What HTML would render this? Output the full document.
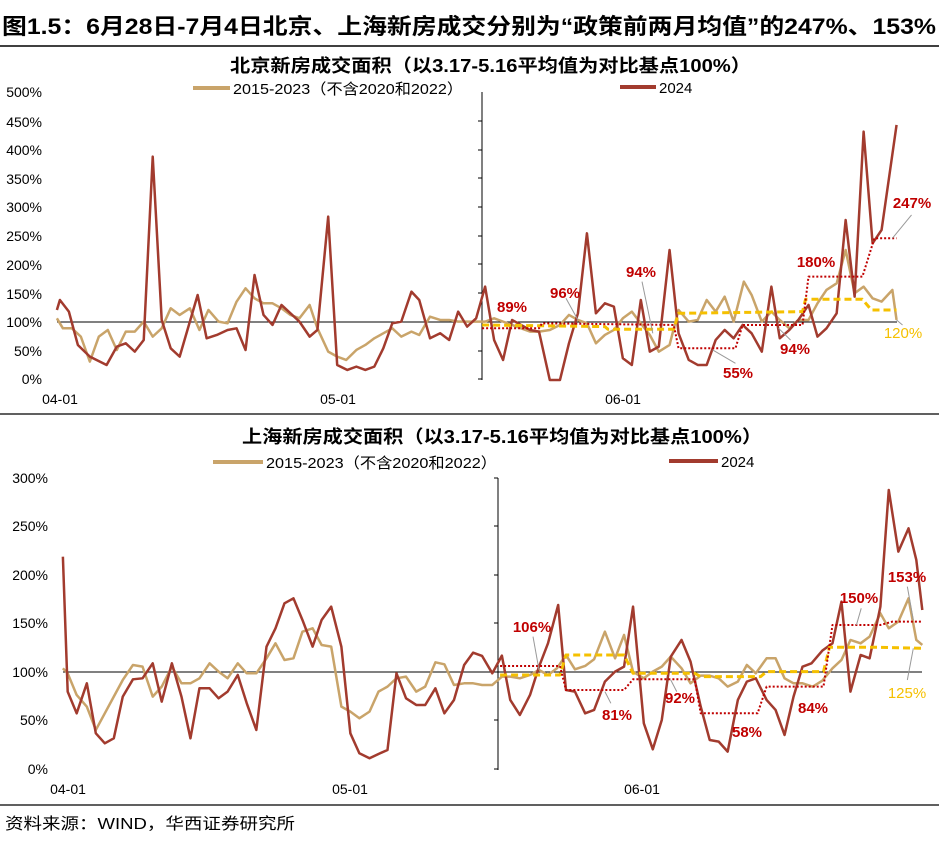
<!DOCTYPE html>
<html><head><meta charset="utf-8"><style>
body{margin:0;background:#fff;width:939px;height:840px;overflow:hidden;font-family:"Liberation Sans","Noto Sans CJK SC",sans-serif}
svg text{font-family:"Liberation Sans","Noto Sans CJK SC",sans-serif}
</style></head><body>
<svg width="939" height="840" viewBox="0 0 939 840" xmlns="http://www.w3.org/2000/svg">
<text x="2" y="34" font-size="22" font-weight="bold" fill="#000" textLength="934" lengthAdjust="spacingAndGlyphs">图1.5：6月28日-7月4日北京、上海新房成交分别为“政策前两月均值”的247%、153%</text>
<line x1="0" y1="46" x2="939" y2="46" stroke="#000" stroke-width="1.5"/>
<line x1="0" y1="414" x2="939" y2="414" stroke="#000" stroke-width="1.2"/>
<line x1="0" y1="805" x2="939" y2="805" stroke="#000" stroke-width="1.2"/>
<text x="5" y="829" font-size="16" fill="#000" textLength="290" lengthAdjust="spacingAndGlyphs">资料来源：WIND，华西证券研究所</text>

<!-- TOP CHART -->
<text x="230" y="72" font-size="18" font-weight="bold" textLength="521" lengthAdjust="spacingAndGlyphs">北京新房成交面积（以3.17-5.16平均值为对比基点100%）</text>
<line x1="193" y1="88" x2="230" y2="88" stroke="#C9A46A" stroke-width="4"/>
<text x="233" y="94" font-size="15" textLength="230" lengthAdjust="spacingAndGlyphs">2015-2023（不含2020和2022）</text>
<line x1="620" y1="87" x2="656" y2="87" stroke="#A23B2E" stroke-width="4"/>
<text x="659" y="93" font-size="15">2024</text>
<g font-size="14" text-anchor="end" fill="#000">
<text x="42" y="97">500%</text><text x="42" y="127">450%</text><text x="42" y="155">400%</text><text x="42" y="184">350%</text><text x="42" y="212">300%</text><text x="42" y="241">250%</text><text x="42" y="270">200%</text><text x="42" y="299">150%</text><text x="42" y="327">100%</text><text x="42" y="356">50%</text><text x="42" y="384">0%</text>
</g>
<g font-size="14" text-anchor="middle"><text x="60" y="404">04-01</text><text x="338" y="404">05-01</text><text x="623" y="404">06-01</text></g>
<g stroke="#000" stroke-width="1"><line x1="482" y1="92" x2="482" y2="380"/>
<line x1="478" y1="121" x2="482" y2="121"/><line x1="478" y1="150" x2="482" y2="150"/><line x1="478" y1="178" x2="482" y2="178"/><line x1="478" y1="207" x2="482" y2="207"/><line x1="478" y1="236" x2="482" y2="236"/><line x1="478" y1="264" x2="482" y2="264"/><line x1="478" y1="293" x2="482" y2="293"/><line x1="478" y1="351" x2="482" y2="351"/><line x1="478" y1="379" x2="482" y2="379"/>
<line x1="57" y1="322" x2="897" y2="322"/></g>
<g transform="scale(0.5989,0.3333)" fill="none" stroke-linejoin="round">
<polyline vector-effect="non-scaling-stroke" stroke="#C9A46A" stroke-width="2.5" points="95,955 105,985 120,985 135,1010 150,1085 165,1010 180,990 195,1050 210,995 225,995 240,965 255,1010 270,985 285,925 300,945 317,925 333,990 348,930 365,965 380,970 395,905 410,865 425,895 440,910 455,910 470,925 485,945 500,955 517,915 530,985 548,1055 563,1070 578,1080 595,1050 610,1035 625,1015 640,1000 655,985 670,1010 687,995 700,1005 718,950 735,960 750,960 765,965 780,965 795,965 810,965 825,955 840,965 855,975 870,985 885,995 900,995 918,990 935,975 950,945 965,960 980,970 995,1030 1010,1005 1025,990 1040,955 1055,935 1070,970 1085,1005 1100,1055 1118,1035 1133,930 1150,965 1165,960 1180,900 1195,935 1210,890 1225,965 1242,845 1255,885 1272,965 1288,935 1302,960 1318,985 1333,960 1350,960 1365,910 1380,870 1397,850 1412,750 1427,880 1442,860 1457,895 1472,905 1490,870 1497,960"/>
<polyline vector-effect="non-scaling-stroke" stroke="#A23B2E" stroke-width="2.5" points="95,930 100,900 115,935 130,1035 150,1070 178,1095 195,1040 210,1030 225,1055 240,1020 255,470 270,960 285,1045 300,1070 330,885 345,1015 362,1005 380,990 395,985 410,1050 425,825 440,945 455,975 470,915 485,940 500,965 517,1010 530,990 548,650 563,1095 580,1110 595,1100 610,1110 625,1100 640,1045 655,970 670,965 687,875 700,900 718,1015 735,1000 750,1020 765,935 780,980 795,955 810,860 825,1020 840,1080 855,960 870,975 885,990 900,995 918,1140 935,1140 950,1030 965,940 980,700 995,940 1010,910 1025,920 1040,1075 1055,1095 1070,900 1085,1055 1100,1040 1118,750 1133,1000 1150,1080 1165,1095 1180,1095 1195,1020 1210,990 1225,1015 1240,975 1255,1000 1272,1055 1288,860 1302,1015 1318,990 1333,960 1350,915 1365,1010 1380,985 1397,940 1412,660 1427,890 1442,395 1457,730 1472,690 1497,375"/>
<polyline vector-effect="non-scaling-stroke" stroke="#F5C000" stroke-width="3" stroke-dasharray="7,4" points="805,975 1010,980 1015,988 1125,988 1133,940 1340,935 1345,898 1440,898 1455,930 1497,930"/>
<polyline vector-effect="non-scaling-stroke" stroke="#C00000" stroke-width="2" stroke-dasharray="2,2" points="805,985 900,985 905,970 1125,975 1133,1045 1228,1045 1240,975 1340,975 1350,830 1440,830 1460,715 1497,715"/>
<g stroke="#999">
<line vector-effect="non-scaling-stroke" x1="945" y1="895" x2="965" y2="960"/><line vector-effect="non-scaling-stroke" x1="1072" y1="845" x2="1090" y2="1000"/><line vector-effect="non-scaling-stroke" x1="1228" y1="1090" x2="1190" y2="1050"/><line vector-effect="non-scaling-stroke" x1="1320" y1="1020" x2="1300" y2="985"/><line vector-effect="non-scaling-stroke" x1="1522" y1="645" x2="1490" y2="715"/><line vector-effect="non-scaling-stroke" x1="1507" y1="975" x2="1497" y2="960"/></g>
</g>
<g font-size="15" font-weight="bold" fill="#C00000" text-anchor="middle">
<text x="512" y="312">89%</text><text x="565" y="298">96%</text><text x="641" y="277">94%</text><text x="738" y="378">55%</text><text x="795" y="354">94%</text><text x="816" y="267">180%</text><text x="912" y="208">247%</text></g>
<text x="903" y="338" font-size="15" fill="#F5C000" text-anchor="middle">120%</text>

<!-- BOTTOM CHART -->
<text x="242" y="443" font-size="18" font-weight="bold" textLength="520" lengthAdjust="spacingAndGlyphs">上海新房成交面积（以3.17-5.16平均值为对比基点100%）</text>
<line x1="213" y1="462" x2="263" y2="462" stroke="#C9A46A" stroke-width="4"/>
<text x="266" y="468" font-size="15" textLength="231" lengthAdjust="spacingAndGlyphs">2015-2023（不含2020和2022）</text>
<line x1="669" y1="461" x2="718" y2="461" stroke="#A23B2E" stroke-width="4"/>
<text x="721" y="467" font-size="15">2024</text>
<g font-size="14" text-anchor="end">
<text x="48" y="483">300%</text><text x="48" y="531">250%</text><text x="48" y="580">200%</text><text x="48" y="628">150%</text><text x="48" y="677">100%</text><text x="48" y="725">50%</text><text x="48" y="774">0%</text></g>
<g font-size="14" text-anchor="middle"><text x="68" y="794">04-01</text><text x="350" y="794">05-01</text><text x="642" y="794">06-01</text></g>
<g stroke="#000" stroke-width="1"><line x1="498" y1="478" x2="498" y2="770"/>
<line x1="494" y1="478" x2="498" y2="478"/><line x1="494" y1="526" x2="498" y2="526"/><line x1="494" y1="575" x2="498" y2="575"/><line x1="494" y1="623" x2="498" y2="623"/><line x1="494" y1="720" x2="498" y2="720"/><line x1="494" y1="769" x2="498" y2="769"/>
<line x1="63" y1="672" x2="922" y2="672"/></g>
<g transform="translate(0,410) scale(0.5989,0.3333)" fill="none" stroke-linejoin="round">
<polyline vector-effect="non-scaling-stroke" stroke="#C9A46A" stroke-width="2.5" points="105,775 113,790 128,855 145,890 160,960 175,910 190,860 205,810 222,765 238,770 255,860 270,830 287,770 303,820 318,820 333,805 350,760 365,785 380,805 397,760 412,790 428,790 445,745 460,700 475,750 490,745 505,665 522,655 537,705 553,710 570,890 585,905 600,925 617,905 632,845 647,830 662,805 678,800 695,845 710,830 727,757 742,763 758,825 775,820 790,820 805,825 822,825 838,800 852,800 868,805 885,795 900,780 915,795 930,775 945,735 960,778 977,768 992,748 1010,665 1027,745 1042,675 1057,785 1075,805 1090,785 1105,770 1120,740 1138,775 1153,820 1170,797 1185,797 1200,805 1215,830 1232,815 1247,765 1262,790 1280,745 1295,745 1310,805 1325,820 1340,820 1357,830 1373,812 1390,775 1405,750 1420,690 1437,700 1452,680 1470,610 1484,655 1500,635 1517,565 1530,690 1540,705"/>
<polyline vector-effect="non-scaling-stroke" stroke="#A23B2E" stroke-width="2.5" points="105,440 113,845 128,910 145,820 160,970 175,1000 190,985 205,860 222,808 238,805 255,760 270,875 287,760 303,860 318,985 333,835 350,835 365,865 380,845 397,795 412,880 428,960 445,710 460,655 475,580 490,565 505,630 522,710 537,630 553,590 570,710 585,970 600,1030 617,1045 632,1032 647,1020 662,790 678,865 695,885 710,885 727,835 742,910 758,870 775,765 790,728 805,738 822,790 838,737 852,870 868,915 885,855 900,770 915,700 932,585 945,840 960,845 977,910 992,900 1010,815 1027,785 1042,770 1057,590 1075,940 1090,1018 1105,930 1120,740 1138,690 1153,755 1170,890 1185,990 1200,995 1215,1025 1232,870 1247,815 1262,805 1280,870 1295,900 1310,975 1325,860 1340,770 1355,760 1373,722 1390,700 1405,575 1420,845 1437,735 1452,745 1470,590 1484,240 1500,425 1517,355 1530,450 1540,600"/>
<polyline vector-effect="non-scaling-stroke" stroke="#F5C000" stroke-width="3" stroke-dasharray="7,4" points="835,795 935,795 945,735 1042,735 1057,790 1160,790 1170,800 1270,800 1280,785 1375,785 1385,712 1470,712 1540,715"/>
<polyline vector-effect="non-scaling-stroke" stroke="#C00000" stroke-width="2" stroke-dasharray="2,2" points="835,768 935,768 945,840 1042,840 1057,808 1160,808 1170,910 1265,910 1280,830 1375,830 1390,645 1470,645 1490,635 1540,635"/>
<g stroke="#999">
<line vector-effect="non-scaling-stroke" x1="890" y1="680" x2="900" y2="780"/><line vector-effect="non-scaling-stroke" x1="1020" y1="880" x2="1010" y2="845"/><line vector-effect="non-scaling-stroke" x1="1130" y1="845" x2="1120" y2="810"/><line vector-effect="non-scaling-stroke" x1="1438" y1="595" x2="1430" y2="645"/><line vector-effect="non-scaling-stroke" x1="1515" y1="530" x2="1525" y2="630"/><line vector-effect="non-scaling-stroke" x1="1515" y1="810" x2="1525" y2="715"/></g>
</g>
<g font-size="15" font-weight="bold" fill="#C00000" text-anchor="middle">
<text x="532" y="632">106%</text><text x="617" y="720">81%</text><text x="680" y="703">92%</text><text x="747" y="737">58%</text><text x="813" y="713">84%</text><text x="859" y="603">150%</text><text x="907" y="582">153%</text></g>
<text x="907" y="698" font-size="15" fill="#F5C000" text-anchor="middle">125%</text>
</svg>
</body></html>
